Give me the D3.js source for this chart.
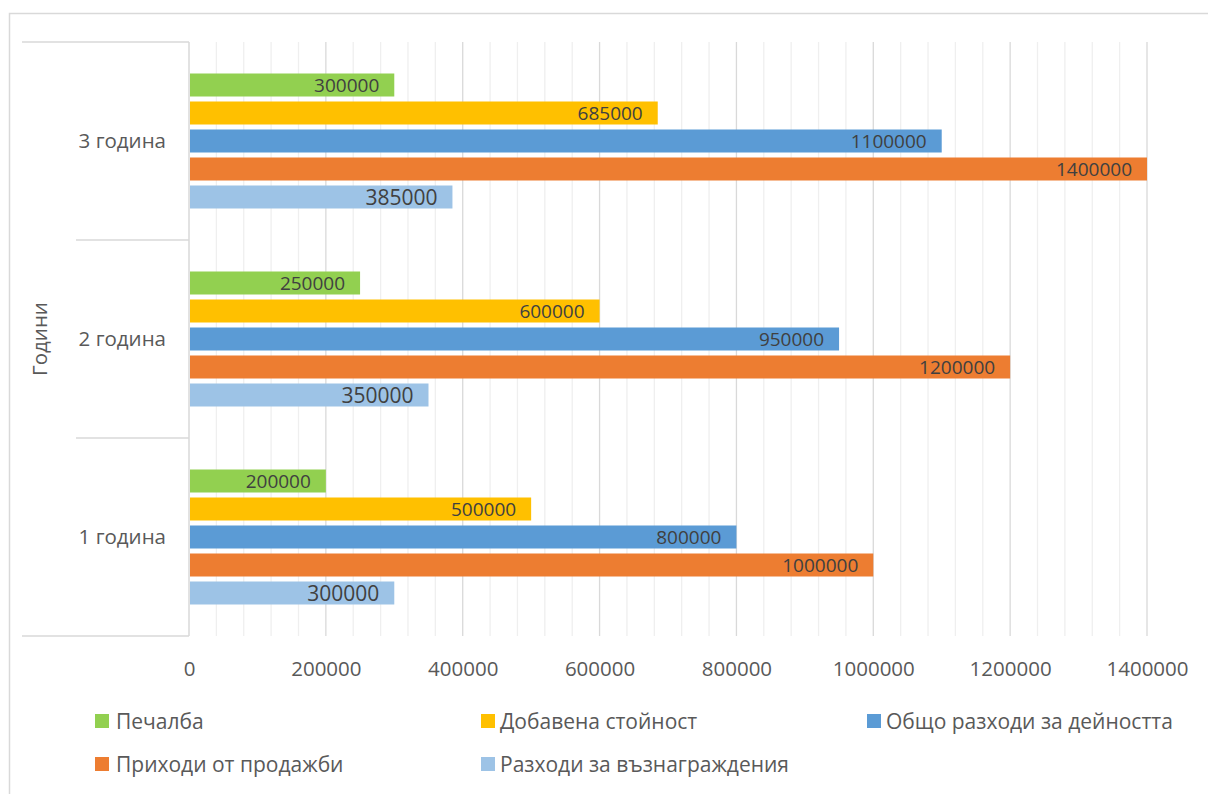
<!DOCTYPE html>
<html>
<head>
<meta charset="utf-8">
<script src="https://cdn.jsdelivr.net/npm/d3@7"></script>
<style>
  html, body { margin: 0; padding: 0; background: #fff; }
  svg { display: block; font-family: "Open Sans", "Noto Sans", sans-serif; }
</style>
</head>
<body>
<svg id="chart" width="1208" height="794"></svg>
<script>
// Categories (years), top to bottom as shown
const years = ["3 година", "2 година", "1 година"];

// Series in draw order within each year group (top to bottom)
const seriesNames = [
  "Печалба",
  "Добавена стойност",
  "Общо разходи за дейността",
  "Приходи от продажби",
  "Разходи за възнаграждения"
];
const seriesColors = ["#92d050", "#ffc000", "#5b9bd5", "#ed7d31", "#9dc3e6"];

// Values per series, ordered as in `years`
const profit       = [300000, 250000, 200000];
const addedValue   = [685000, 600000, 500000];
const totalCosts   = [1100000, 950000, 800000];
const salesRevenue = [1400000, 1200000, 1000000];
const wageCosts    = [385000, 350000, 300000];
const seriesValues = [profit, addedValue, totalCosts, salesRevenue, wageCosts];

// Axis tick values
const majorTicks = [0, 200000, 400000, 600000, 800000, 1000000, 1200000, 1400000];
const axisTitle = "Години";

const svg = d3.select("#chart");

// Plot geometry
const plot = { left: 189, right: 1147, top: 42, bottom: 636 };

// Outer chart border
svg.append("rect")
  .attr("x", 9.5).attr("y", 13.5)
  .attr("width", 1220).attr("height", 800)
  .attr("fill", "#fff")
  .attr("stroke", "#d9d9d9").attr("stroke-width", 1.5);

const x = d3.scaleLinear().domain([0, 1400000]).range([plot.left, plot.right]);
const y = d3.scaleBand().domain(years).range([plot.top, plot.bottom]).padding(0);
const yInner = d3.scaleBand()
  .domain(seriesNames)
  .range([31.5, y.bandwidth() - 31.5])
  .paddingInner(5 / 28)
  .paddingOuter(0);

// Minor gridlines
const minorTicks = d3.range(40000, 1400001, 40000).filter(v => v % 200000 !== 0);
svg.append("g").selectAll("line").data(minorTicks).join("line")
  .attr("x1", d => x(d)).attr("x2", d => x(d))
  .attr("y1", plot.top).attr("y2", plot.bottom)
  .attr("stroke", "#efefef").attr("stroke-width", 1.3);

// Major gridlines
svg.append("g").selectAll("line").data(majorTicks.slice(1)).join("line")
  .attr("x1", d => x(d)).attr("x2", d => x(d))
  .attr("y1", plot.top).attr("y2", plot.bottom)
  .attr("stroke", "#d9d9d9").attr("stroke-width", 1.3);

// Category axis line and group separators
svg.append("line")
  .attr("x1", plot.left).attr("x2", plot.left)
  .attr("y1", plot.top).attr("y2", plot.bottom)
  .attr("stroke", "#d9d9d9").attr("stroke-width", 1.5);

const boundaries = [plot.top].concat(years.map(c => y(c) + y.bandwidth()));
svg.append("g").selectAll("line").data(boundaries).join("line")
  .attr("x1", (d, i) => (i === 0 || i === boundaries.length - 1) ? 22 : 76)
  .attr("x2", plot.left)
  .attr("y1", d => d).attr("y2", d => d)
  .attr("stroke", "#d9d9d9").attr("stroke-width", 1.5);

// Bars
const groups = svg.append("g").selectAll("g").data(years).join("g")
  .attr("transform", d => `translate(0,${y(d)})`);

groups.each(function(year, yi) {
  const g = d3.select(this);
  seriesNames.forEach((name, si) => {
    const v = seriesValues[si][yi];
    const by = yInner(name);
    g.append("rect")
      .attr("x", x(0) + 1)
      .attr("y", by)
      .attr("width", x(v) - x(0) - 1)
      .attr("height", yInner.bandwidth())
      .attr("fill", seriesColors[si]);
    g.append("text")
      .attr("x", x(v) - 15)
      .attr("y", by + yInner.bandwidth() / 2)
      .attr("dy", "0.36em")
      .attr("text-anchor", "end")
      .attr("fill", "#404040")
      .attr("font-size", si === 4 ? 21 : 19)
      .text(v);
  });
});

// Category labels
svg.append("g").selectAll("text").data(years).join("text")
  .attr("x", 166)
  .attr("y", d => y(d) + y.bandwidth() / 2)
  .attr("dy", "0.36em")
  .attr("text-anchor", "end")
  .attr("fill", "#595959")
  .attr("font-size", 20.5)
  .text(d => d);

// Value axis labels
const xAxis = svg.append("g")
  .attr("transform", `translate(0,${plot.bottom})`)
  .call(d3.axisBottom(x).tickValues(majorTicks).tickFormat(d3.format("d")).tickSize(0).tickPadding(0));
xAxis.select(".domain").remove();
xAxis.selectAll("text")
  .attr("y", 33)
  .attr("dy", "0.36em")
  .attr("fill", "#595959")
  .attr("font-size", 20.5)
  .attr("font-family", "Open Sans, Noto Sans, sans-serif");

// Axis title
svg.append("text")
  .attr("transform", `translate(40,${(plot.top + plot.bottom) / 2}) rotate(-90)`)
  .attr("dy", "0.36em")
  .attr("text-anchor", "middle")
  .attr("fill", "#595959")
  .attr("font-size", 20.5)
  .text(axisTitle);

// Legend
const legendPos = [
  { mx: 95, tx: 116, y: 721 },
  { mx: 481, tx: 500, y: 721 },
  { mx: 867, tx: 886, y: 721 },
  { mx: 95, tx: 116, y: 764 },
  { mx: 481, tx: 500, y: 764 }
];
const legend = svg.append("g").selectAll("g").data(seriesNames).join("g");
legend.append("rect")
  .attr("x", (d, i) => legendPos[i].mx)
  .attr("y", (d, i) => legendPos[i].y - 7)
  .attr("width", 14).attr("height", 14)
  .attr("fill", (d, i) => seriesColors[i]);
legend.append("text")
  .attr("x", (d, i) => legendPos[i].tx)
  .attr("y", (d, i) => legendPos[i].y)
  .attr("dy", "0.36em")
  .attr("fill", "#595959")
  .attr("font-size", 21)
  .text(d => d);
</script>
</body>
</html>
